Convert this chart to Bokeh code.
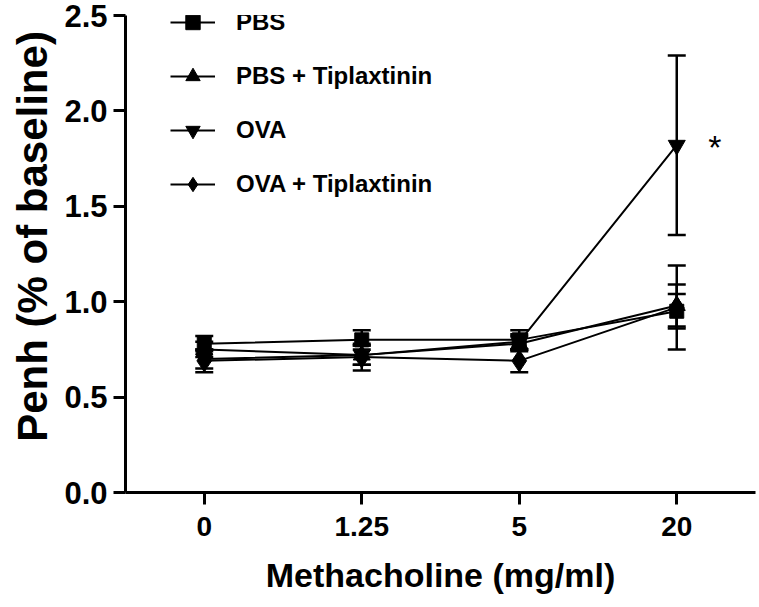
from bokeh.plotting import figure
from bokeh.models import (ColumnDataSource, Whisker, TeeHead, Legend, LegendItem,
                          FixedTicker, Title, Range1d)
from bokeh.core.properties import value
from bokeh.embed import file_html
from bokeh.resources import INLINE

# ---- data ----
x_labels = ["0", "1.25", "5", "20"]
x_pos = [0, 1, 2, 3]

pbs = [0.78, 0.80, 0.80, 0.95]
pbs_err = [0.04, 0.05, 0.05, 0.09]
pbs_tip = [0.75, 0.72, 0.78, 0.98]
pbs_tip_err = [0.04, 0.05, 0.04, 0.11]
ova = [0.70, 0.72, 0.79, 1.82]
ova_err = [0.05, 0.05, 0.04, 0.47]
ova_tip = [0.69, 0.71, 0.69, 0.97]
ova_tip_err = [0.06, 0.07, 0.06, 0.22]

series_names = ["PBS", "PBS + Tiplaxtinin", "OVA", "OVA + Tiplaxtinin"]
y_ticks = [0.0, 0.5, 1.0, 1.5, 2.0, 2.5]
y_tick_labels = ["0.0", "0.5", "1.0", "1.5", "2.0", "2.5"]
y_title = "Penh (% of baseline)"
x_title = "Methacholine (mg/ml)"
star_label = "*"

# ---- figure ----
p = figure(frame_width=630, frame_height=477,
           x_range=Range1d(-0.5, 3.5), y_range=Range1d(0, 2.5),
           output_backend="svg", toolbar_location=None,
           min_border_left=125, min_border_top=15, min_border_right=4,
           min_border_bottom=115)
p.outline_line_color = None
p.grid.visible = False
p.background_fill_color = "white"

FONT = "Liberation Sans"

for ax in (p.xaxis[0], p.yaxis[0]):
    ax.axis_line_width = 3
    ax.major_tick_line_width = 3
    ax.major_tick_out = 12
    ax.major_tick_in = 0
    ax.minor_tick_line_color = None
    ax.major_label_text_font = FONT
    ax.major_label_text_font_style = "bold"
    ax.major_label_text_color = "black"
    ax.axis_line_color = "black"
    ax.major_tick_line_color = "black"

p.yaxis.ticker = FixedTicker(ticks=y_ticks)
p.yaxis.major_label_overrides = {t: l for t, l in zip(y_ticks, y_tick_labels)}
p.yaxis.major_label_text_font_size = "31px"
p.yaxis.major_label_standoff = 6

p.xaxis.ticker = FixedTicker(ticks=x_pos)
p.xaxis.major_label_overrides = {t: l for t, l in zip(x_pos, x_labels)}
p.xaxis.major_label_text_font_size = "28px"
p.xaxis.major_label_standoff = 12
p.xaxis.axis_label = x_title
p.xaxis.axis_label_text_font = FONT
p.xaxis.axis_label_text_font_style = "bold"
p.xaxis.axis_label_text_font_size = "34px"
p.xaxis.axis_label_standoff = 17
p.xaxis.axis_label_text_color = "black"

# vertical axis title; leading no-break spaces nudge the centred text upward
p.add_layout(Title(text="\u00a0\u00a0\u00a0" + y_title, align="center",
                   text_font=FONT, text_font_style="bold", text_font_size="42px",
                   text_color="black", standoff=12), "left")

data = [(pbs, pbs_err, "square", 14),
        (pbs_tip, pbs_tip_err, "triangle", 17),
        (ova, ova_err, "inverted_triangle", 17),
        (ova_tip, ova_tip_err, "diamond", 22)]

items = []
for name, (vals, errs, marker, size) in zip(series_names, data):
    src = ColumnDataSource(dict(x=x_pos, y=vals,
                                upper=[v + e for v, e in zip(vals, errs)],
                                lower=[v - e for v, e in zip(vals, errs)]))
    w = Whisker(base="x", upper="upper", lower="lower", source=src,
                line_width=2.5, line_color="black",
                upper_head=TeeHead(size=18, line_width=2.5, line_color="black"),
                lower_head=TeeHead(size=18, line_width=2.5, line_color="black"))
    p.add_layout(w)
    lr = p.line("x", "y", source=src, line_width=2, line_color="black")
    sr = p.scatter("x", "y", source=src, marker=marker, size=size,
                   fill_color="black", line_color="black")
    items.append(LegendItem(label=name, renderers=[lr, sr]))

legend = Legend(items=items, location=(45, 290), glyph_width=45, glyph_height=36,
                label_height=30, spacing=18, padding=0, margin=0,
                border_line_color=None, background_fill_alpha=0,
                label_standoff=21, label_text_font=FONT, label_text_color="black",
                label_text_font_style="bold", label_text_font_size="24px")
p.add_layout(legend)

star_src = ColumnDataSource(dict(x=[x_pos[3]], y=[ova[3]], t=[star_label]))
p.text("x", "y", text="t", source=star_src, x_offset=38, y_offset=2,
       text_font=value(FONT), text_font_size="34px", text_align="center",
       text_baseline="middle", text_color="black")

open("out.html", "w").write(file_html(p, INLINE))
